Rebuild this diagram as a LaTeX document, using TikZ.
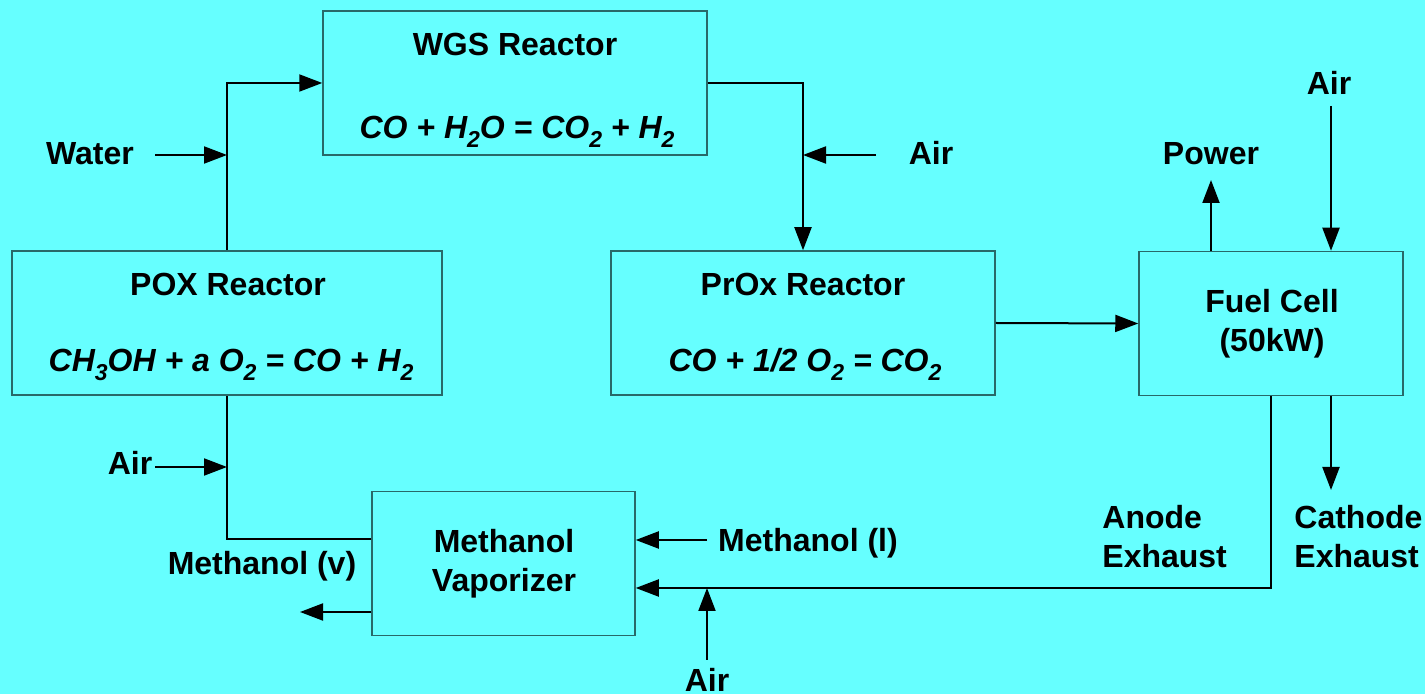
\documentclass[tikz,border=0pt]{standalone}
\usepackage{fontspec}
\setmainfont{Liberation Sans}
\usetikzlibrary{arrows.meta,calc}
\definecolor{bg}{RGB}{102,255,255}
\definecolor{boxline}{RGB}{40,105,105}
\newcommand{\mysub}[1]{\raisebox{-4.5pt}{\fontsize{11.5}{11.5}\selectfont #1}}
\begin{document}
\begin{tikzpicture}[x=0.5pt,y=-0.5pt,
  box/.style={draw=boxline,line width=0.75pt,fill=bg,inner sep=0pt,minimum height=72pt},
  lbl/.style={font=\fontsize{16}{19}\selectfont\bfseries,inner sep=0pt,anchor=base},
  eq/.style={font=\fontsize{16}{19}\selectfont\bfseries\itshape,inner sep=0pt,anchor=base},
  ln/.style={line width=1pt},
  arr/.style={line width=1pt,-{Triangle[length=11.5pt,width=8.5pt]}}]
\fill[bg] (0,0) rectangle (1425,694);
\useasboundingbox (0,0) rectangle (1425,694);
% boxes
\node[box,minimum width=192pt] (wgs) at (515,83) {};
\node[box,minimum width=215pt] (pox) at (227,323) {};
\node[box,minimum width=192pt] (prox) at (803,323) {};
\node[box,minimum width=132pt] (fc) at (1271,323.5) {};
\node[box,minimum width=131.5pt] (vap) at (503.5,563.5) {};
% box texts
\node[lbl] (wgsT) at (515,56) {WGS Reactor};
\node[eq] (wgsE) at (517,139) {CO + H\mysub{2}O = CO\mysub{2} + H\mysub{2}};
\node[lbl] (poxT) at (228,296) {POX Reactor};
\node[eq] (poxE) at (231,372) {CH\mysub{3}OH + a O\mysub{2} = CO + H\mysub{2}};
\node[lbl] (proxT) at (803,296) {PrOx Reactor};
\node[eq] (proxE) at (805,372) {CO + 1/2 O\mysub{2} = CO\mysub{2}};
\node[lbl] (fcT1) at (1272,313) {Fuel Cell};
\node[lbl] (fcT2) at (1272,352) {(50kW)};
\node[lbl] (vapT1) at (504,553) {Methanol};
\node[lbl] (vapT2) at (504,592) {Vaporizer};
% free labels
\node[lbl] (water) at (90,165) {Water};
\node[lbl] (air1) at (931,165) {Air};
\node[lbl] (power) at (1211,165) {Power};
\node[lbl] (air2) at (1329,95) {Air};
\node[lbl] (air3) at (130,475) {Air};
\node[lbl] (mv) at (262,575) {Methanol (v)};
\node[lbl] (ml) at (808,552) {Methanol (l)};
\node[lbl] (air4) at (707,692) {Air};
\node[lbl,anchor=base west] (an1) at (1102,529) {Anode};
\node[lbl,anchor=base west] (an2) at (1102,568) {Exhaust};
\node[lbl,anchor=base west] (ca1) at (1294,529) {Cathode};
\node[lbl,anchor=base west] (ca2) at (1294,568) {Exhaust};
% coordinates for free ends
\coordinate (sW) at (155,155);
\coordinate (sA1) at (876,155);
\coordinate (pwTip) at (1211,180);
\coordinate (a2s) at (1331,106);
\coordinate (cTip) at (1331,490);
\coordinate (anY) at (1271,588);
\coordinate (a4s) at (707,660);
\coordinate (mls) at (707,540);
\coordinate (vpy) at (0,539);
\coordinate (a3s) at (155,467);
\coordinate (mvt) at (300,612);
% connectors
\draw[arr] (pox.north) |- (wgs.west);
\draw[arr] (sW) -- (pox.north |- sW);
\draw[arr] (wgs.east) -| (prox.north);
\draw[arr] (sA1) -- (prox.north |- sA1);
\draw[arr] (prox.east) -- (fc.west);
\draw[arr] (fc.north -| pwTip) -- (pwTip);
\draw[arr] (a2s) -- (fc.north -| a2s);
\draw[arr] (fc.south -| cTip) -- (cTip);
\draw[arr] (fc.south) -- (anY) -- (vap.east |- anY);
\draw[arr] (a4s) -- (a4s |- anY);
\draw[arr] (mls) -- (vap.east |- mls);
\draw[ln] (vap.west |- vpy) -| (pox.south);
\draw[arr] (a3s) -- (pox.south |- a3s);
\draw[arr] (vap.west |- mvt) -- (mvt);
\end{tikzpicture}
\end{document}
